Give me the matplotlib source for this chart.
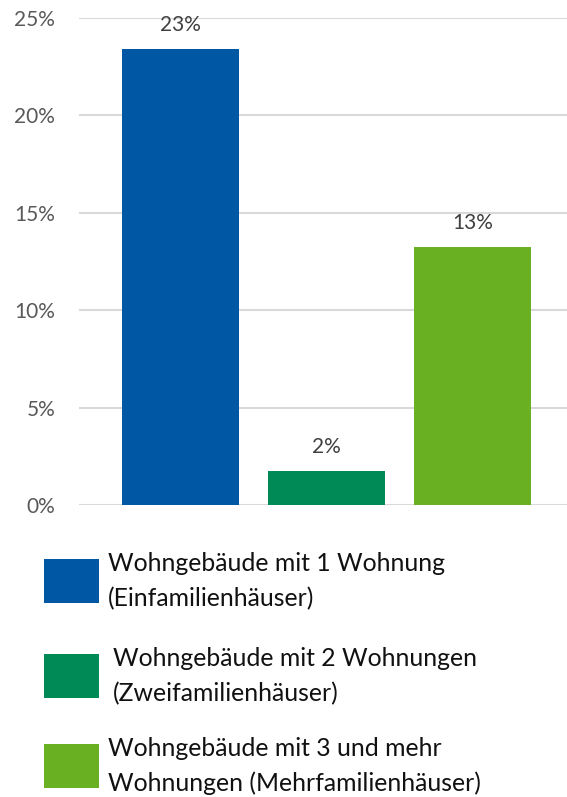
import matplotlib.pyplot as plt
from matplotlib.patches import Rectangle
from matplotlib.offsetbox import AnchoredOffsetbox, DrawingArea, HPacker, TextArea

# data
categories = ["Wohngebäude mit 1 Wohnung\n(Einfamilienhäuser)",
              "Wohngebäude mit 2 Wohnungen\n(Zweifamilienhäuser)",
              "Wohngebäude mit 3 und mehr\nWohnungen (Mehrfamilienhäuser)"]
values = [23.4, 1.75, 13.25]
colors = ["#0057A3", "#008A55", "#6AB023"]
yticks = [0, 5, 10, 15, 20, 25]

plt.rcParams['font.family'] = ['Lato', 'DejaVu Sans']

fig = plt.figure(figsize=(5.67, 7.97), dpi=100)
ax = fig.add_axes([0.139, 0.3664, 0.861, 0.611])

x = range(len(values))
bars = ax.bar(x, values, width=0.8, color=colors, zorder=3)
ax.bar_label(bars, labels=[f"{round(v):.0f}%" for v in values],
             padding=10, fontsize=15, color="#404040")

ax.set_ylim(0, 25)
ax.set_xlim(-0.695, 2.647)
ax.set_yticks(yticks)
ax.set_yticklabels([f"{t}%" for t in yticks], fontsize=15, color="#595959")
ax.set_xticks([])
ax.tick_params(axis='y', length=0, pad=17)
ax.grid(axis='y', color="#d9d9d9", linewidth=1.5, zorder=0)
for s in ax.spines.values():
    s.set_visible(False)

# legend below the chart, one box per entry (text has wider line spacing)
px = 72 / fig.dpi
legend_y = [581, 676, 766]      # pixel rows of the entries
legend_sep = [9, 14, 9]         # gap between swatch and text, pixels
for label, c, yy, sep in zip(categories, colors, legend_y, legend_sep):
    da = DrawingArea(55 * px, 44 * px, 0, 0)
    da.add_artist(Rectangle((0, 0), 55 * px, 44 * px, facecolor=c, edgecolor="none"))
    ta = TextArea(label, textprops=dict(fontsize=17.8, linespacing=1.6, color="#111111"))
    box = HPacker(children=[da, ta], align="center", pad=0, sep=sep * px)
    anchored = AnchoredOffsetbox(loc="center left", child=box, pad=0, borderpad=0,
                                 frameon=False,
                                 bbox_to_anchor=(44 / 567, 1 - yy / 797),
                                 bbox_transform=fig.transFigure)
    fig.add_artist(anchored)

fig.savefig("out.png", dpi=100)
